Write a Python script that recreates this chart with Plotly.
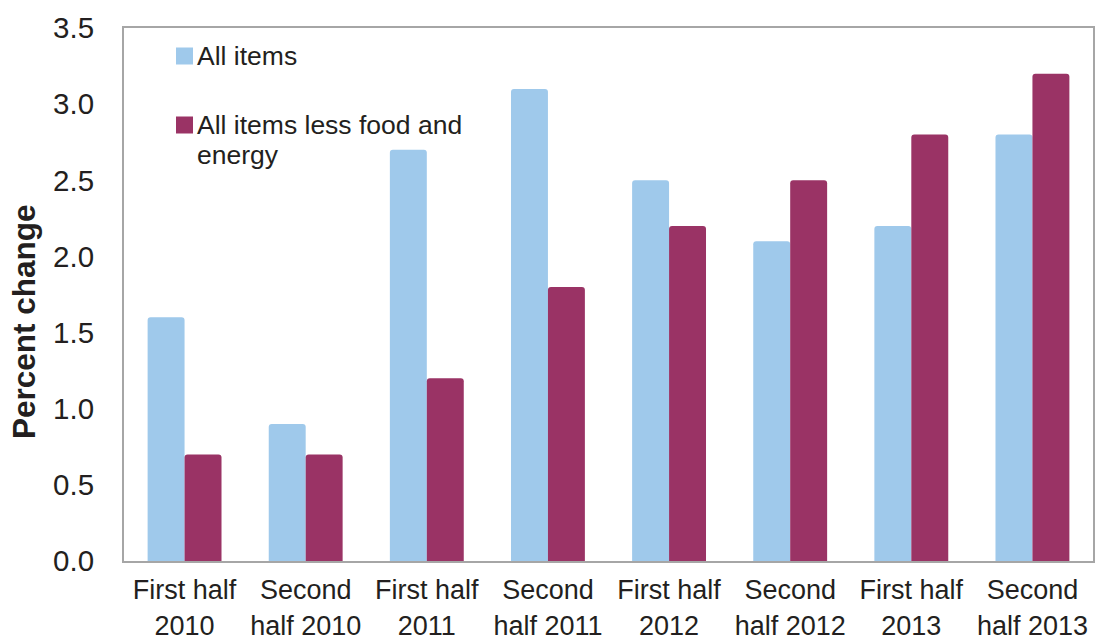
import plotly.graph_objects as go

# Half-year periods and CPI percent changes
periods = ["First half<br>2010", "Second<br>half 2010", "First half<br>2011", "Second<br>half 2011",
           "First half<br>2012", "Second<br>half 2012", "First half<br>2013", "Second<br>half 2013"]
all_items = [1.6, 0.9, 2.7, 3.1, 2.5, 2.1, 2.2, 2.8]
core_items = [0.7, 0.7, 1.2, 1.8, 2.2, 2.5, 2.8, 3.2]
series_names = ["All items", "All items less food and<br>energy"]
y_title = "Percent change"

BLUE = "#9FC9EB"
MAROON = "#9A3365"
FONT = "Liberation Sans, Arial, sans-serif"
TEXT = "#231F20"

fig = go.Figure()
fig.add_trace(go.Bar(x=periods, y=all_items, name=series_names[0],
                     marker=dict(color=BLUE, line=dict(width=0), cornerradius=3)))
fig.add_trace(go.Bar(x=periods, y=core_items, name=series_names[1],
                     marker=dict(color=MAROON, line=dict(width=0), cornerradius=3)))

# Pixel -> paper coordinate helpers for the plot area
W, H = 969.0, 533.0
def px_x(px):
    return (px - 124) / W
def px_y(py):
    return (561 - py) / H

# Legend drawn as swatches + labels in the upper-left of the plot area
legend_rows = [(56, [series_names[0]], BLUE), (125, series_names[1].split("<br>"), MAROON)]
for cy, lines, color in legend_rows:
    fig.add_shape(type="rect", xref="paper", yref="paper",
                  x0=px_x(176), x1=px_x(193), y0=px_y(cy + 8.5), y1=px_y(cy - 8.5),
                  fillcolor=color, line=dict(width=0))
    for i, line in enumerate(lines):
        fig.add_annotation(text=line, xref="paper", yref="paper",
                           x=px_x(195), y=px_y(cy + 30 * i), xanchor="left", yanchor="middle",
                           showarrow=False, font=dict(family=FONT, size=26.5, color=TEXT))

# Vertical axis title, sitting a little below the plot's midline
fig.add_annotation(text=f"<b>{y_title}</b>", xref="paper", yref="paper",
                   x=px_x(24), y=px_y(322), xanchor="center", yanchor="middle",
                   textangle=-90, showarrow=False,
                   font=dict(family=FONT, size=31.5, color=TEXT))

fig.update_layout(
    width=1095, height=644,
    margin=dict(l=124, r=2, t=28, b=83),
    paper_bgcolor="white", plot_bgcolor="white",
    barmode="group", bargap=0.39, bargroupgap=0,
    showlegend=False,
    font=dict(family=FONT, size=27, color=TEXT),
)
fig.update_xaxes(showline=True, mirror=True, linecolor="#A6A6A6", linewidth=2,
                 ticks="", showgrid=False, tickfont=dict(size=27), ticklabelstandoff=4,
                 automargin=False)
fig.update_yaxes(range=[0, 3.5], dtick=0.5, tickformat=".1f",
                 showline=True, mirror=True, linecolor="#A6A6A6", linewidth=2,
                 ticks="", showgrid=False, zeroline=False, tickfont=dict(size=29.5),
                 ticklabelstandoff=22, automargin=False)

fig.write_html("out.html")
